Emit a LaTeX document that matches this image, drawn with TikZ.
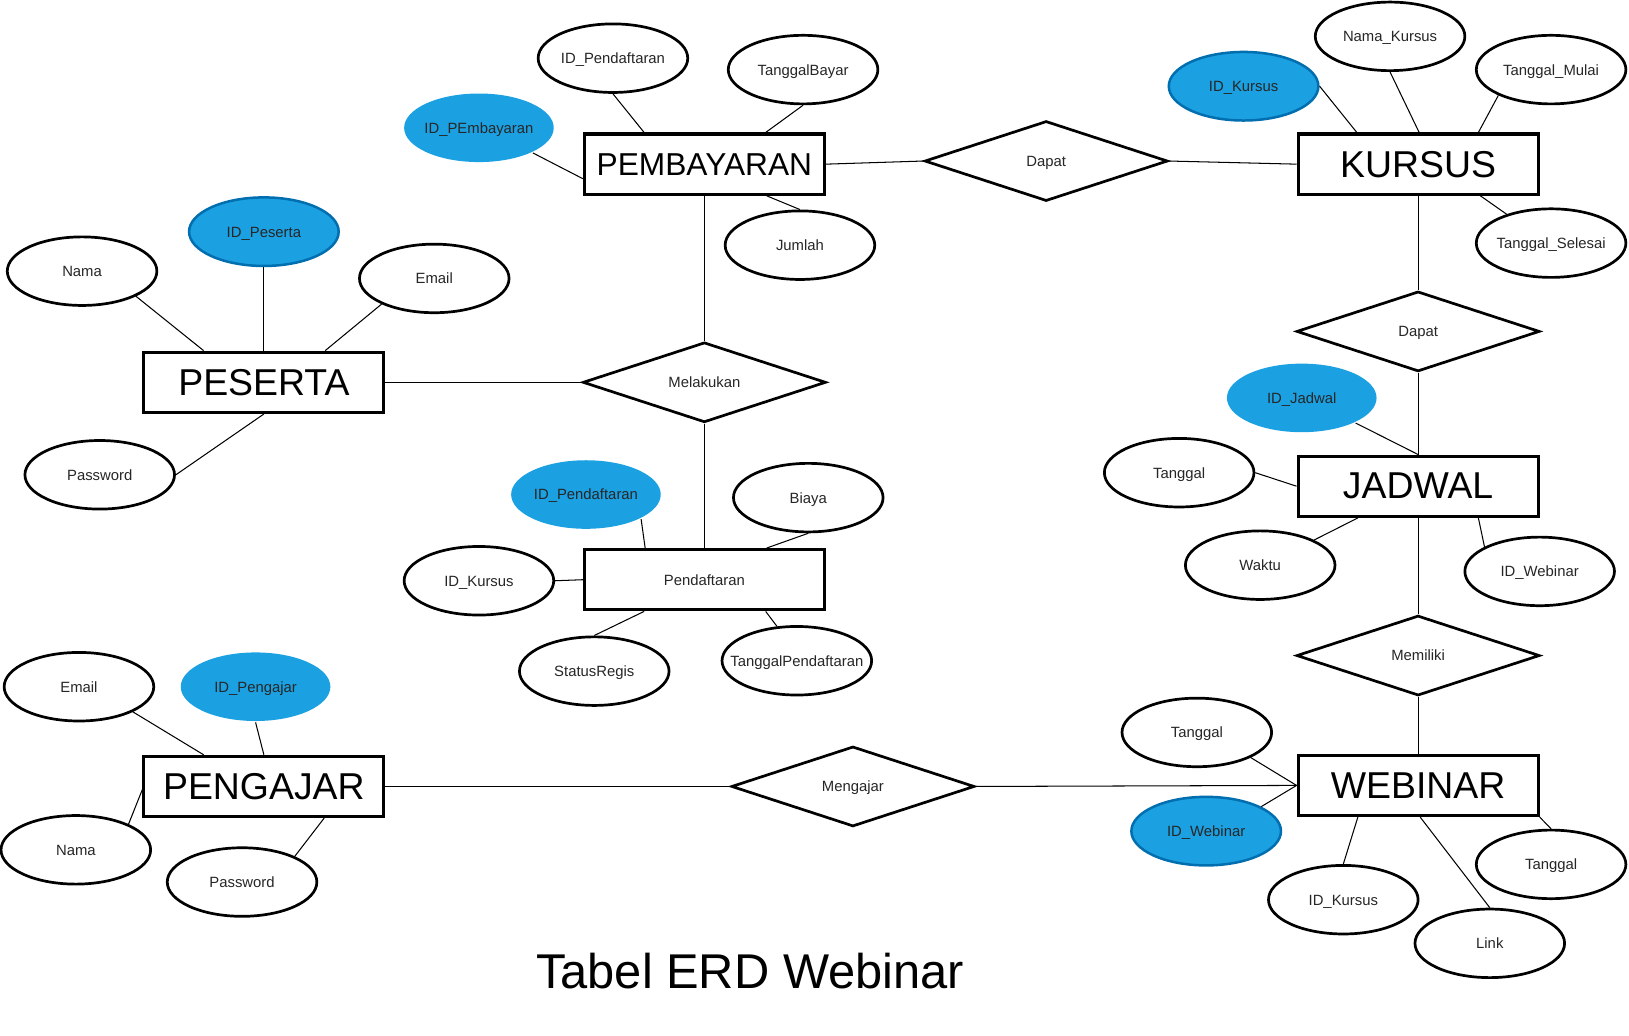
\documentclass[tikz,border=0pt]{standalone}
\usepackage{fontspec}
\setmainfont{Liberation Sans}
\usetikzlibrary{shapes.geometric}
\definecolor{idblue}{HTML}{1BA1E2}
\definecolor{idstroke}{HTML}{006EAF}
\newcommand\zl[1]{\raisebox{-5.2pt}[0pt][0pt]{\makebox[0pt]{#1}}}
\tikzset{
  entity/.style={draw=black, line width=3pt, fill=white, minimum width=231pt, minimum height=58pt, inner sep=0pt, font=\fontsize{36}{40}\selectfont},
  weak/.style={entity, font=\fontsize{14.3}{17}\selectfont, text=black!85},
  rel/.style={draw=black, diamond, line width=2.6pt, fill=white, minimum width=234pt, minimum height=77pt, inner sep=0pt, font=\fontsize{14.3}{17}\selectfont, text=black!85},
  attr/.style={draw=black, ellipse, line width=2.6pt, fill=white, minimum width=144pt, minimum height=66pt, inner sep=0pt, font=\fontsize{14.3}{17}\selectfont, text=black!85},
  keyb/.style={attr, draw=idstroke, fill=idblue, line width=2.4pt},
  keyn/.style={attr, draw=none, fill=idblue},
  conn/.style={draw=black, line width=1pt},
}
\begin{document}
\begin{tikzpicture}[x=1pt,y=-1pt]
\useasboundingbox[fill=white] (0,0) rectangle (1568,996.3);

% entities
\node[entity, font=\fontsize{30.5}{34}\selectfont] (pemb) at (678,158) {PEMBAYARAN};
\node[entity] (kurs) at (1365,158) {KURSUS};
\node[entity] (pes) at (254,368) {PESERTA};
\node[entity] (jad) at (1365,468) {JADWAL};
\node[weak] (pend) at (678,558) {\zl{Pendaftaran}};
\node[entity] (peng) at (254,757) {PENGAJAR};
\node[entity] (web) at (1365,756) {WEBINAR};

% relationships
\node[rel] (dap1) at (1007,155) {\zl{Dapat}};
\node[rel] (dap2) at (1365,319) {\zl{Dapat}};
\node[rel] (mel) at (678,368) {\zl{Melakukan}};
\node[rel] (mem) at (1365,631) {\zl{Memiliki}};
\node[rel] (meng) at (821,757) {\zl{Mengajar}};

% attributes of PEMBAYARAN
\node[attr] (pidp) at (590,56) {\zl{ID\_Pendaftaran}};
\node[attr] (ptb) at (773,67) {\zl{TanggalBayar}};
\node[keyn] (pidb) at (461,123) {\zl{ID\_PEmbayaran}};
\node[attr] (pjum) at (770,236) {\zl{Jumlah}};

% attributes of KURSUS
\node[keyb] (kid) at (1197,83) {\zl{ID\_Kursus}};
\node[attr] (knama) at (1338,35) {\zl{Nama\_Kursus}};
\node[attr] (ktm) at (1493,67) {\zl{Tanggal\_Mulai}};
\node[attr] (kts) at (1493,234) {\zl{Tanggal\_Selesai}};

% attributes of PESERTA
\node[keyb] (sid) at (254,223) {\zl{ID\_Peserta}};
\node[attr] (snama) at (79,261) {\zl{Nama}};
\node[attr] (semail) at (418,268) {\zl{Email}};
\node[attr] (spw) at (96,457) {\zl{Password}};

% attributes of JADWAL
\node[keyn] (jid) at (1253,383) {\zl{ID\_Jadwal}};
\node[attr] (jtgl) at (1135,455) {\zl{Tanggal}};
\node[attr] (jwak) at (1213,544) {\zl{Waktu}};
\node[attr] (jweb) at (1482,550) {\zl{ID\_Webinar}};

% attributes of Pendaftaran
\node[keyn] (did) at (564,476) {\zl{ID\_Pendaftaran}};
\node[attr] (dbia) at (778,479) {\zl{Biaya}};
\node[attr] (dkur) at (461,559) {\zl{ID\_Kursus}};
\node[attr] (dsta) at (572,646) {\zl{StatusRegis}};
\node[attr] (dtgl) at (767,636) {\zl{TanggalPendaftaran}};

% attributes of PENGAJAR
\node[attr] (gemail) at (76,661) {\zl{Email}};
\node[keyn] (gid) at (246,661) {\zl{ID\_Pengajar}};
\node[attr] (gnama) at (73,818) {\zl{Nama}};
\node[attr] (gpw) at (233,849) {\zl{Password}};

% attributes of WEBINAR
\node[attr] (wtgl1) at (1152,705) {\zl{Tanggal}};
\node[keyb] (wid) at (1161,800) {\zl{ID\_Webinar}};
\node[attr] (wkur) at (1293,866) {\zl{ID\_Kursus}};
\node[attr] (wlink) at (1434,908) {\zl{Link}};
\node[attr] (wtgl2) at (1493,832) {\zl{Tanggal}};

% title
\node[font=\fontsize{47}{52}\selectfont, inner sep=0pt] (title) at (722,935) {Tabel ERD Webinar};

% relationship connectors
\draw[conn] (pemb.east) -- (dap1.west);
\draw[conn] (dap1.east) -- (kurs.west);
\draw[conn] (kurs.south) -- (dap2.north);
\draw[conn] (dap2.south) -- (jad.north);
\draw[conn] (jad.south) -- (mem.north);
\draw[conn] (mem.south) -- (web.north);
\draw[conn] (meng.east) -- (web.west);
\draw[conn] (peng.east) -- (meng.west);
\draw[conn] (pes.east) -- (mel.west);
\draw[conn] (pemb.south) -- (mel.north);
\draw[conn] (mel.south) -- (pend.north);

% attribute connectors
\draw[conn] (pidp.south) -- ([xshift=-58pt]pemb.north);
\draw[conn] (ptb.south) -- ([xshift=59pt]pemb.north);
\draw[conn] (pidb.-25) -- ([yshift=-14pt]pemb.west);
\draw[conn] (pjum.north) -- ([xshift=60pt]pemb.south);

\draw[conn] (kid.east) -- ([xshift=-59pt]kurs.north);
\draw[conn] (knama.south) -- ([xshift=1pt]kurs.north);
\draw[conn] (ktm.-154) -- ([xshift=58pt]kurs.north);
\draw[conn] (kts.147) -- ([xshift=60pt]kurs.south);

\draw[conn] (sid.south) -- (pes.north);
\draw[conn] (snama.-25) -- ([xshift=-58pt]pes.north);
\draw[conn] (semail.-154) -- ([xshift=59pt]pes.north);
\draw[conn] (spw.east) -- (pes.south);

\draw[conn] (jid.-25) -- (jad.north);
\draw[conn] (jtgl.east) -- (jad.west);
\draw[conn] (jwak.25) -- ([xshift=-58pt]jad.south);
\draw[conn] (jweb.156) -- ([xshift=58pt]jad.south);

\draw[conn] (did.-24) -- ([xshift=-57pt]pend.north);
\draw[conn] (dbia.south) -- ([xshift=60pt]pend.north);
\draw[conn] (dkur.east) -- (pend.west);
\draw[conn] (dsta.north) -- ([xshift=-58pt]pend.south);
\draw[conn] (dtgl.120) -- ([xshift=59pt]pend.south);

\draw[conn] (gemail.-25) -- ([xshift=-58pt]peng.north);
\draw[conn] (gid.south) -- (peng.north);
\draw[conn] (gnama.26) -- ([yshift=-3pt]peng.west);
\draw[conn] (gpw.26) -- ([xshift=58pt]peng.south);

\draw[conn] (wtgl1.-25) -- (web.west);
\draw[conn] (wid.24) -- (web.west);
\draw[conn] (wkur.north) -- ([xshift=-58pt]web.south);
\draw[conn] (wlink.north) -- ([xshift=2pt]web.south);
\draw[conn] (wtgl2.north) -- (web.south east);
\end{tikzpicture}
\end{document}
